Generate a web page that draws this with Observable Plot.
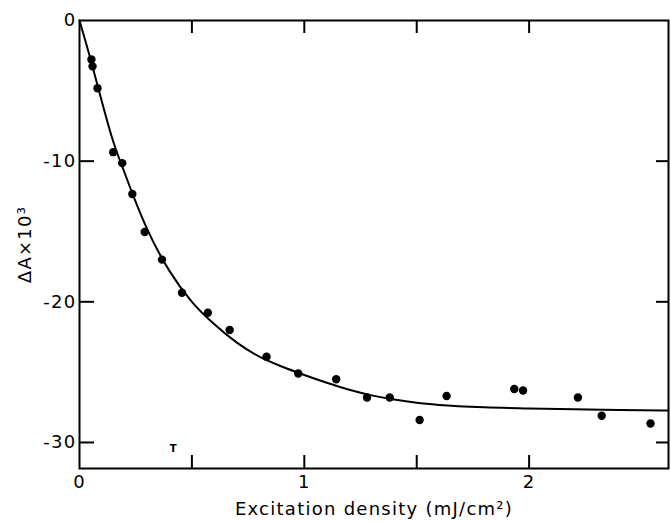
<!DOCTYPE html>
<html>
<head>
<meta charset="utf-8">
<script src="https://cdn.jsdelivr.net/npm/d3@7"></script>
<script src="https://cdn.jsdelivr.net/npm/@observablehq/plot@0.6"></script>
<style>
  html, body { margin: 0; padding: 0; background: #fff; }
  svg text { letter-spacing: 0.07em; }
</style>
</head>
<body>
<div id="chart"></div>
<script>
// Measured points: excitation density (mJ/cm^2) and ΔA×10^3
const densities = [0.053, 0.058, 0.08, 0.15, 0.19, 0.235, 0.29, 0.367, 0.456, 0.571, 0.668, 0.832, 0.973, 1.142, 1.279, 1.38, 1.513, 1.633, 1.934, 1.973, 2.217, 2.323, 2.54];
const deltaA    = [-2.77, -3.26, -4.82, -9.36, -10.14, -12.34, -15.04, -17.0, -19.36, -20.78, -22.0, -23.9, -25.1, -25.5, -26.8, -26.8, -28.4, -26.7, -26.2, -26.3, -26.8, -28.1, -28.65];

// Fitted curve
const fitX = [0, 0.05, 0.1, 0.15, 0.2, 0.25, 0.3, 0.4, 0.5, 0.6, 0.7, 0.8, 0.9, 1.0, 1.1, 1.2, 1.3, 1.4, 1.5, 1.6, 1.8, 2.0, 2.2, 2.4, 2.62];
const fitY = [0, -2.8, -5.8, -8.6, -10.8, -12.9, -14.8, -17.8, -20.0, -21.6, -22.9, -23.9, -24.6, -25.2, -25.75, -26.25, -26.65, -26.95, -27.18, -27.33, -27.5, -27.58, -27.64, -27.69, -27.73];

// Axis ticks and labels
const xMinorTicks = [0.5, 1, 1.5, 2];
const xLabelTicks = [0, 1, 2];
const yTicks = [0, -10, -20, -30];
const yRightTicks = [-10, -20, -30];
const xTitle = "Excitation density (mJ/cm²)";
const yTitle = "ΔA×10³";
const markerText = [{x: 0.418, y: -30.45, t: "T"}];

const points = densities.map((d, i) => ({x: d, y: deltaA[i]}));
const fit = fitX.map((d, i) => ({x: d, y: fitY[i]}));

const W = 671, H = 521;
const mL = 79, mR = 3, mT = 20, mB = 53;
const fw = W - mL - mR, fh = H - mT - mB;
const tick = 13;

const chart = Plot.plot({
  width: W,
  height: H,
  marginLeft: mL,
  marginRight: mR,
  marginTop: mT,
  marginBottom: mB,
  style: {fontFamily: "DejaVu Sans, sans-serif", fontSize: "17px", color: "#000", background: "#fff"},
  x: {domain: [0, 2.62]},
  y: {domain: [-31.85, 0]},
  marks: [
    Plot.frame({stroke: "#000", strokeWidth: 2}),
    // bottom ticks (inward)
    Plot.ruleX(xMinorTicks, {stroke: "#000", strokeWidth: 2, insetTop: fh - tick}),
    // top ticks (inward)
    Plot.ruleX(xMinorTicks, {stroke: "#000", strokeWidth: 2, insetBottom: fh - tick}),
    // left ticks
    Plot.ruleY(yTicks.slice(1), {stroke: "#000", strokeWidth: 2, insetRight: fw - 15}),
    // right ticks
    Plot.ruleY(yRightTicks, {stroke: "#000", strokeWidth: 2, insetLeft: fw - 12}),
    Plot.axisX(xLabelTicks, {anchor: "bottom", tickSize: 0, tickPadding: 7, label: null, tickFormat: d => String(d), fontSize: 18}),
    Plot.axisY(yTicks, {anchor: "left", tickSize: 0, tickPadding: 3, label: null, tickFormat: d => String(d), fontSize: 18}),
    Plot.line(fit, {x: "x", y: "y", stroke: "#000", strokeWidth: 2, curve: "monotone-x"}),
    Plot.dot(points, {x: "x", y: "y", r: 4.2, fill: "#000", stroke: "none"}),
    Plot.text(markerText, {x: "x", y: "y", text: "t", fontSize: 10, fontWeight: "bold"}),
    Plot.text([xTitle], {frameAnchor: "bottom", dy: 46, fontSize: 18, text: d => d}),
    Plot.text([yTitle], {frameAnchor: "left", dx: -54, rotate: -90, textAnchor: "middle", fontSize: 18, text: d => d})
  ]
});

document.getElementById("chart").appendChild(chart);
</script>
</body>
</html>
